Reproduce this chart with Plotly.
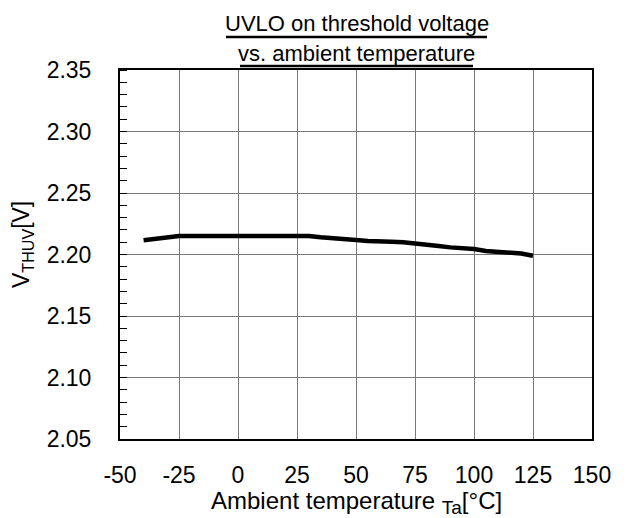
import plotly.graph_objects as go

# Data
temperature_c = [-40, -35, -30, -25, -20, -15, -10, -5, 0, 5, 10, 15, 20, 25, 30,
                 35, 40, 45, 50, 55, 60, 65, 70, 75, 80, 85, 90, 95, 100, 105,
                 110, 115, 120, 125]
vthuv_v = [2.2115, 2.2125, 2.2135, 2.2150, 2.2150, 2.2150, 2.2150, 2.2150, 2.2150,
           2.2150, 2.2150, 2.2150, 2.2150, 2.2150, 2.2150,
           2.2140, 2.2135, 2.2130, 2.2118, 2.2110, 2.2103, 2.2103, 2.2100, 2.2092,
           2.2078, 2.2070, 2.2058, 2.2055, 2.2045, 2.2028,
           2.2022, 2.2020, 2.2008, 2.1990]

x_ticks = [-50, -25, 0, 25, 50, 75, 100, 125, 150]
y_ticks = [2.05, 2.10, 2.15, 2.20, 2.25, 2.30, 2.35]

title_line1 = "UVLO on threshold voltage"
title_line2 = "vs. ambient temperature"
x_title = "Ambient temperature <sub><span style='font-size:19px'>Ta</span></sub>[°C]"
y_title = "V<sub>THUV</sub>[V]"

FONT = "Liberation Sans, Arial, sans-serif"

fig = go.Figure()
fig.add_trace(go.Scatter(
    x=temperature_c, y=vthuv_v, mode="lines",
    line=dict(color="black", width=4.5),
    showlegend=False, hoverinfo="skip"))

fig.update_layout(
    width=627, height=518,
    margin=dict(l=120, r=35, t=70, b=79),
    paper_bgcolor="white", plot_bgcolor="white",
    font=dict(family=FONT, color="black", size=22),
    showlegend=False,
)

fig.update_xaxes(
    range=[-50, 150], tickvals=x_ticks, ticktext=[str(v) for v in x_ticks],
    showgrid=True, gridcolor="#7a7a7a", gridwidth=1.3,
    showline=True, linecolor="black", linewidth=2, mirror=True,
    ticks="", tickfont=dict(size=23, family=FONT, color="black"),
    ticklabelstandoff=14, zeroline=False,
)
fig.update_yaxes(
    range=[2.05, 2.35], tickvals=y_ticks, ticktext=[f"{v:.2f}" for v in y_ticks],
    showgrid=True, gridcolor="#7a7a7a", gridwidth=1.3,
    showline=True, linecolor="black", linewidth=2, mirror=True,
    ticks="", tickfont=dict(size=23, family=FONT, color="black"),
    ticklabelstandoff=22, zeroline=False,
    minor=dict(dtick=0.01, tick0=2.05, ticks="inside", ticklen=7,
               tickcolor="black", tickwidth=1, showgrid=False),
)

# Titles as annotations
fig.add_annotation(text=title_line1, xref="paper", yref="paper", x=0.5013, y=1.1247,
                   xanchor="center", yanchor="middle", showarrow=False,
                   font=dict(size=22, family=FONT, color="black"))
fig.add_annotation(text=title_line2, xref="paper", yref="paper", x=0.5013, y=1.0434,
                   xanchor="center", yanchor="middle", showarrow=False,
                   font=dict(size=22, family=FONT, color="black"))
fig.add_shape(type="line", xref="paper", yref="paper", x0=0.2246, x1=0.7775,
              y0=1.0894, y1=1.0894, line=dict(color="black", width=2.5))
fig.add_shape(type="line", xref="paper", yref="paper", x0=0.2542, x1=0.7479,
              y0=1.0108, y1=1.0108, line=dict(color="black", width=2.5))

fig.add_annotation(text=x_title, xref="paper", yref="paper", x=0.5, y=-0.172,
                   xanchor="center", yanchor="middle", showarrow=False,
                   font=dict(size=24, family=FONT, color="black"))
fig.add_annotation(text=y_title, xref="paper", yref="paper", x=-0.2076, y=0.5257,
                   xanchor="center", yanchor="middle", showarrow=False, textangle=-90,
                   font=dict(size=23, family=FONT, color="black"))

fig.write_html("out.html")
